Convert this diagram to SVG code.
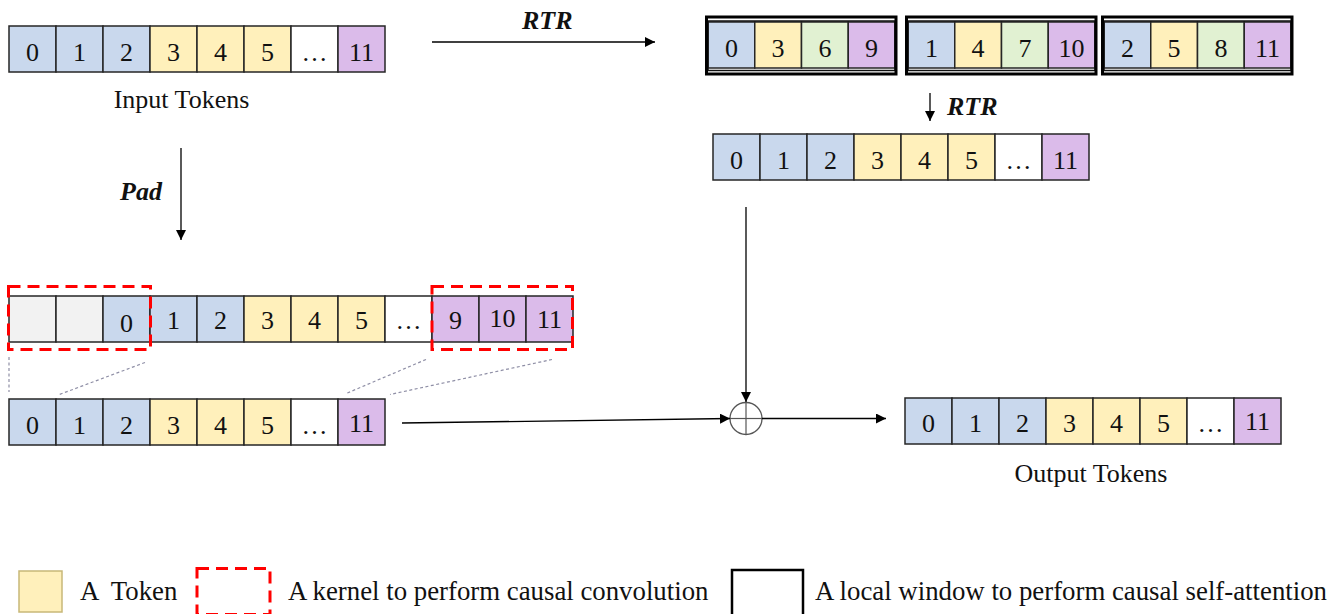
<svg xmlns="http://www.w3.org/2000/svg" width="1341" height="614" viewBox="0 0 1341 614">
<defs>
<style>
.c{stroke:#262626;stroke-width:1.5}
.b{fill:#c9d8ed}
.y{fill:#fff0bb}
.g{fill:#e1f1d2}
.p{fill:#dbbbea}
.w{fill:#ffffff}
.e{fill:#f2f2f2}
.t{font-family:"Liberation Serif","Times New Roman",serif;font-size:26px;fill:#111;text-anchor:middle}
.l{font-family:"Liberation Serif","Times New Roman",serif;font-size:26.8px;fill:#111}
.bi{font-family:"Liberation Serif","Times New Roman",serif;font-size:26px;font-weight:bold;font-style:italic;fill:#111}
.k{fill:none;stroke:#ff0000;stroke-width:3;stroke-dasharray:12 7}
.win{fill:none;stroke:#000;stroke-width:3}
.wi{fill:none;stroke:#111;stroke-width:1.5}
.ln{fill:none;stroke:#000;stroke-width:1.3}
.dt{fill:none;stroke:#8f8fa6;stroke-width:1.2;stroke-dasharray:3 2.5}
</style>
<marker id="ah" viewBox="0 0 10 10" refX="10" refY="5" markerWidth="10" markerHeight="10" markerUnits="userSpaceOnUse" orient="auto">
<path d="M0,0 L10,5 L0,10 z" fill="#000"/>
</marker>
</defs>
<rect width="1341" height="614" fill="#fff"/>

<g id="input-tokens">
<rect class="c b" x="9" y="26" width="47" height="46"/><text class="t" x="32.5" y="60.5">0</text>
<rect class="c b" x="56" y="26" width="47" height="46"/><text class="t" x="79.5" y="60.5">1</text>
<rect class="c b" x="103" y="26" width="47" height="46"/><text class="t" x="126.5" y="60.5">2</text>
<rect class="c y" x="150" y="26" width="47" height="46"/><text class="t" x="173.5" y="60.5">3</text>
<rect class="c y" x="197" y="26" width="47" height="46"/><text class="t" x="220.5" y="60.5">4</text>
<rect class="c y" x="244" y="26" width="47" height="46"/><text class="t" x="267.5" y="60.5">5</text>
<rect class="c w" x="291" y="26" width="47" height="46"/><text class="t" x="314.5" y="60.5">…</text>
<rect class="c p" x="338" y="26" width="47" height="46"/><text class="t" x="361.5" y="60.5">11</text>
<text class="t" x="181.5" y="108">Input Tokens</text>
</g>

<g id="window-1">
<rect class="c b" x="708" y="22" width="46.75" height="46"/><text class="t" x="731.4" y="56.5">0</text>
<rect class="c y" x="754.75" y="22" width="46.75" height="46"/><text class="t" x="778.1" y="56.5">3</text>
<rect class="c g" x="801.5" y="22" width="46.75" height="46"/><text class="t" x="824.9" y="56.5">6</text>
<rect class="c p" x="848.25" y="22" width="46.75" height="46"/><text class="t" x="871.6" y="56.5">9</text>
<rect class="wi" x="708" y="21" width="187" height="49.5"/>
<rect class="win" x="706.5" y="17" width="189.5" height="57"/>
</g>
<g id="window-2">
<rect class="c b" x="908" y="22" width="46.75" height="46"/><text class="t" x="931.4" y="56.5">1</text>
<rect class="c y" x="954.75" y="22" width="46.75" height="46"/><text class="t" x="978.1" y="56.5">4</text>
<rect class="c g" x="1001.5" y="22" width="46.75" height="46"/><text class="t" x="1024.9" y="56.5">7</text>
<rect class="c p" x="1048.25" y="22" width="46.75" height="46"/><text class="t" x="1071.6" y="56.5">10</text>
<rect class="wi" x="908" y="21" width="187" height="49.5"/>
<rect class="win" x="906.5" y="17" width="189.5" height="57"/>
</g>
<g id="window-3">
<rect class="c b" x="1104" y="22" width="46.75" height="46"/><text class="t" x="1127.4" y="56.5">2</text>
<rect class="c y" x="1150.75" y="22" width="46.75" height="46"/><text class="t" x="1174.1" y="56.5">5</text>
<rect class="c g" x="1197.5" y="22" width="46.75" height="46"/><text class="t" x="1220.9" y="56.5">8</text>
<rect class="c p" x="1244.25" y="22" width="46.75" height="46"/><text class="t" x="1267.6" y="56.5">11</text>
<rect class="wi" x="1104" y="21" width="187" height="49.5"/>
<rect class="win" x="1102.5" y="17" width="189.5" height="57"/>
</g>

<g id="rtr-tokens">
<rect class="c b" x="713" y="134" width="47" height="46"/><text class="t" x="736.5" y="168.5">0</text>
<rect class="c b" x="760" y="134" width="47" height="46"/><text class="t" x="783.5" y="168.5">1</text>
<rect class="c b" x="807" y="134" width="47" height="46"/><text class="t" x="830.5" y="168.5">2</text>
<rect class="c y" x="854" y="134" width="47" height="46"/><text class="t" x="877.5" y="168.5">3</text>
<rect class="c y" x="901" y="134" width="47" height="46"/><text class="t" x="924.5" y="168.5">4</text>
<rect class="c y" x="948" y="134" width="47" height="46"/><text class="t" x="971.5" y="168.5">5</text>
<rect class="c w" x="995" y="134" width="47" height="46"/><text class="t" x="1018.5" y="168.5">…</text>
<rect class="c p" x="1042" y="134" width="47" height="46"/><text class="t" x="1065.5" y="168.5">11</text>
</g>

<g id="padded-tokens">
<rect class="c e" x="9" y="296" width="47" height="46"/>
<rect class="c e" x="56" y="296" width="47" height="46"/>
<rect class="c b" x="103" y="296" width="47" height="46"/><text class="t" x="126.5" y="331.5">0</text>
<rect class="c b" x="150" y="296" width="47" height="46"/><text class="t" x="173.5" y="328.5">1</text>
<rect class="c b" x="197" y="296" width="47" height="46"/><text class="t" x="220.5" y="328.5">2</text>
<rect class="c y" x="244" y="296" width="47" height="46"/><text class="t" x="267.5" y="328.5">3</text>
<rect class="c y" x="291" y="296" width="47" height="46"/><text class="t" x="314.5" y="328.5">4</text>
<rect class="c y" x="338" y="296" width="47" height="46"/><text class="t" x="361.5" y="328.5">5</text>
<rect class="c w" x="385" y="296" width="47" height="46"/><text class="t" x="408.5" y="328.5">…</text>
<rect class="c p" x="432" y="296" width="47" height="46"/><text class="t" x="455.5" y="328.5">9</text>
<rect class="c p" x="479" y="296" width="47" height="46"/><text class="t" x="502.5" y="327">10</text>
<rect class="c p" x="526" y="296" width="47" height="46"/><text class="t" x="549.5" y="327.5">11</text>
<rect class="k" x="8.5" y="286.5" width="142" height="63"/>
<rect class="k" x="432" y="286.5" width="140.5" height="63"/>
</g>

<g id="conv-tokens">
<rect class="c b" x="9" y="399" width="47" height="46"/><text class="t" x="32.5" y="434">0</text>
<rect class="c b" x="56" y="399" width="47" height="46"/><text class="t" x="79.5" y="434">1</text>
<rect class="c b" x="103" y="399" width="47" height="46"/><text class="t" x="126.5" y="434">2</text>
<rect class="c y" x="150" y="399" width="47" height="46"/><text class="t" x="173.5" y="434">3</text>
<rect class="c y" x="197" y="399" width="47" height="46"/><text class="t" x="220.5" y="434">4</text>
<rect class="c y" x="244" y="399" width="47" height="46"/><text class="t" x="267.5" y="434">5</text>
<rect class="c w" x="291" y="399" width="47" height="46"/><text class="t" x="314.5" y="434">…</text>
<rect class="c p" x="338" y="399" width="47" height="46"/><text class="t" x="361.5" y="432">11</text>
</g>

<g id="output-tokens">
<rect class="c b" x="905" y="398" width="47" height="46"/><text class="t" x="928.5" y="432">0</text>
<rect class="c b" x="952" y="398" width="47" height="46"/><text class="t" x="975.5" y="432">1</text>
<rect class="c b" x="999" y="398" width="47" height="46"/><text class="t" x="1022.5" y="432">2</text>
<rect class="c y" x="1046" y="398" width="47" height="46"/><text class="t" x="1069.5" y="432">3</text>
<rect class="c y" x="1093" y="398" width="47" height="46"/><text class="t" x="1116.5" y="432">4</text>
<rect class="c y" x="1140" y="398" width="47" height="46"/><text class="t" x="1163.5" y="432">5</text>
<rect class="c w" x="1187" y="398" width="47" height="46"/><text class="t" x="1210.5" y="432">…</text>
<rect class="c p" x="1234" y="398" width="47" height="46"/><text class="t" x="1257.5" y="430">11</text>
<text class="t" x="1091" y="482">Output Tokens</text>
</g>

<g id="add">
<circle cx="746" cy="418.5" r="16" fill="none" stroke="#555" stroke-width="1.3"/>
<line x1="730" y1="418.5" x2="762" y2="418.5" stroke="#555" stroke-width="1.2"/>
<line x1="746" y1="402.5" x2="746" y2="434.5" stroke="#555" stroke-width="1.2"/>
</g>

<g id="connectors">
<line class="ln" x1="432" y1="42" x2="655" y2="42" marker-end="url(#ah)"/>
<text class="bi" x="522" y="29">RTR</text>
<line class="ln" x1="930" y1="93" x2="930" y2="121" marker-end="url(#ah)"/>
<text class="bi" x="947" y="115">RTR</text>
<line class="ln" x1="181" y1="148" x2="181" y2="240" marker-end="url(#ah)"/>
<text class="bi" x="120" y="200">Pad</text>
<line class="ln" x1="746" y1="207" x2="746" y2="402" marker-end="url(#ah)"/>
<line class="ln" x1="402" y1="423" x2="730" y2="418.5" marker-end="url(#ah)"/>
<line class="ln" x1="762" y1="418.5" x2="886" y2="418.5" marker-end="url(#ah)"/>
<line class="dt" x1="9" y1="357" x2="9" y2="392"/>
<line class="dt" x1="145" y1="362.5" x2="58" y2="395"/>
<line class="dt" x1="426" y1="359.5" x2="345" y2="394"/>
<line class="dt" x1="552" y1="359.5" x2="390" y2="394.5"/>
</g>

<g id="legend">
<rect x="19" y="571" width="43" height="41" fill="#fff0bb" stroke="#c8b878" stroke-width="1.5"/>
<text class="l" x="80" y="600" xml:space="preserve">A  Token</text>
<rect class="k" x="197" y="568.5" width="73" height="46"/>
<text class="l" x="288" y="600">A kernel to perform causal convolution</text>
<rect x="732" y="570" width="71" height="46" fill="#fff" stroke="#000" stroke-width="2.5"/>
<text class="l" x="815" y="600">A local window to perform causal self-attention</text>
</g>
</svg>
